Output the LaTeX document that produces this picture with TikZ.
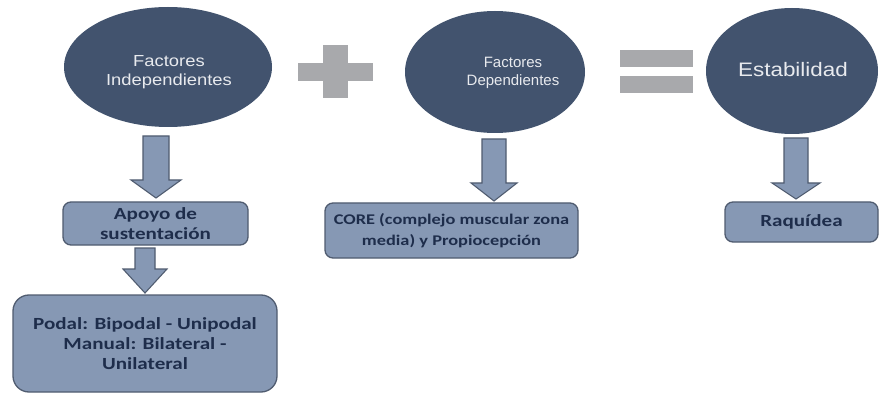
\documentclass[tikz,border=0pt]{standalone}
\usepackage{fontspec}
\usetikzlibrary{shapes.geometric,calc}
\newfontfamily\ellfont[FakeStretch=1.15]{Liberation Sans}
\newfontfamily\ellfontn{Liberation Sans}
\newfontfamily\boxfont[FakeStretch=1.24]{Carlito}
\definecolor{ellfill}{RGB}{66,83,110}
\definecolor{elltextc}{RGB}{232,234,238}
\definecolor{boxfill}{RGB}{134,152,180}
\definecolor{boxline}{RGB}{80,92,112}
\definecolor{boxtextc}{RGB}{30,45,75}
\definecolor{opgray}{RGB}{168,169,172}
\tikzset{
  ellnode/.style={ellipse, fill=ellfill, draw=none, inner sep=0pt},
  elltext/.style={text=elltextc, align=center, inner sep=0pt},
  infobox/.style={rectangle, fill=boxfill, draw=boxline, line width=1.3pt, rounded corners=8pt,
     text=boxtextc, align=center, inner sep=2pt, font={\boxfont\bfseries\fontsize{17}{20}\selectfont}},
  opbar/.style={rectangle, fill=opgray, draw=none, inner sep=0pt},
  arrowbody/.style={fill=boxfill, draw=boxline, line width=1.1pt, line join=miter}
}
\newcommand{\blockarrow}[5]{%
  \filldraw[arrowbody] let \p1=(#4), \p2=(#5) in
   (\x1-#1pt,\y1) -- (\x1+#1pt,\y1) -- (\x1+#1pt,\y2+#3pt) -- (\x1+#2pt,\y2+#3pt)
   -- (\x2,\y2) -- (\x1-#2pt,\y2+#3pt) -- (\x1-#1pt,\y2+#3pt) -- cycle;}
\begin{document}
\begin{tikzpicture}[x=1pt,y=-1pt]
\useasboundingbox (0,0) rectangle (879,393);
\fill[white] (0,0) rectangle (879,393);

% ellipses
\node[ellnode, minimum width=208pt, minimum height=120pt] (e1) at (168,67) {};
\node[ellnode, minimum width=180pt, minimum height=122pt] (e2) at (495,72) {};
\node[ellnode, minimum width=172pt, minimum height=126pt] (e3) at (792,71) {};
\node[elltext, font={\ellfont\fontsize{16}{18.5}\selectfont}] (e1t) at (169,72) {Factores\\Independientes};
\node[elltext, font={\ellfontn\fontsize{15}{17.5}\selectfont}] (e2t) at (513,73) {Factores\\Dependientes};
\node[elltext, font={\ellfont\fontsize{19.5}{21}\selectfont}] (e3t) at (793,70) {Estabilidad};

% operators
\node[opbar, minimum width=75pt, minimum height=18pt] (plush) at (335.5,72) {};
\node[opbar, minimum width=25pt, minimum height=53pt] (plusv) at (335.5,71.5) {};
\node[opbar, minimum width=73pt, minimum height=17pt] (eqtop) at (656.5,58.5) {};
\node[opbar, minimum width=73pt, minimum height=17pt] (eqbot) at (656.5,84.5) {};

% boxes
\node[infobox, minimum width=185pt, minimum height=43pt] (b1) at (155.5,223.5) {Apoyo de\\sustentación};
\node[infobox, minimum width=264pt, minimum height=97pt, rounded corners=16pt] (b2) at (145,343.5) {Podal: Bipodal - Unipodal\\Manual: Bilateral -\\Unilateral};
\node[infobox, minimum width=253pt, minimum height=55pt, font={\boxfont\bfseries\fontsize{14.8}{21}\selectfont}] (b3) at (451.5,230.5) {CORE (complejo muscular zona\\media) y Propiocepción};
\node[infobox, minimum width=153pt, minimum height=40pt] (b4) at (801.5,222) {Raquídea};

% arrow end points
\coordinate (a1s) at (156,136); \coordinate (a1t) at (156,198);
\coordinate (a2s) at (145,248); \coordinate (a2t) at (145,293);
\coordinate (a3s) at (494,139); \coordinate (a3t) at (494,201);
\coordinate (a4s) at (796,138); \coordinate (a4t) at (796,199);

\blockarrow{13}{25}{18}{a1s}{a1t}
\blockarrow{10}{22}{24}{a2s}{a2t}
\blockarrow{12}{23}{18}{a3s}{a3t}
\blockarrow{12}{24}{16}{a4s}{a4t}
\end{tikzpicture}
\end{document}
